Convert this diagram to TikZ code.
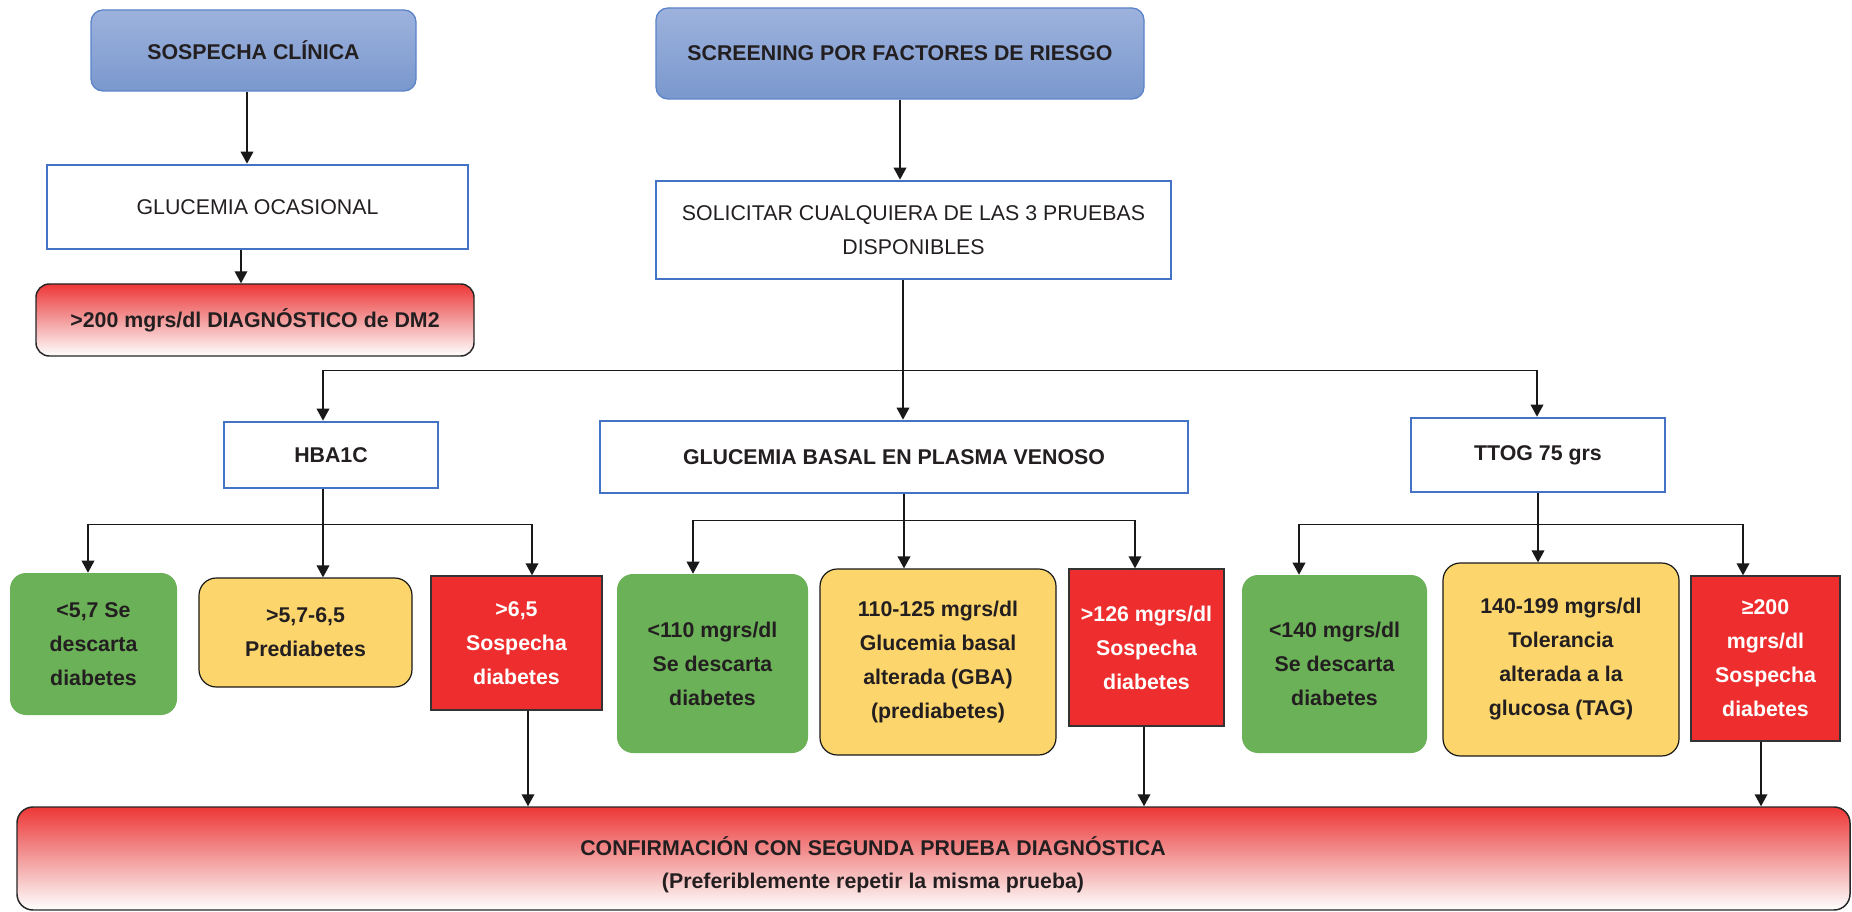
\documentclass[tikz,border=0pt]{standalone}
\usepackage{fontspec}
\setmainfont{Liberation Sans}
\usetikzlibrary{arrows.meta,calc}

\definecolor{blueTop}{HTML}{9DB2DD}
\definecolor{blueBot}{HTML}{7A98CD}
\definecolor{blueLine}{HTML}{5A84C8}
\definecolor{rectBlue}{HTML}{4472C4}
\definecolor{okGreen}{HTML}{6BB157}
\definecolor{midYellow}{HTML}{FCD56C}
\definecolor{alertRed}{HTML}{EE2E2E}
\definecolor{gradRed}{HTML}{EE3737}
\definecolor{gradMid}{HTML}{F39C9C}
\definecolor{inkText}{HTML}{231F20}

\tikzset{
  base/.style={inner sep=0pt, align=center, text=inkText,
    font=\bfseries\fontsize{16}{25.5}\selectfont},
  headbox/.style={base, draw=blueLine, line width=1pt, rounded corners=9pt,
    top color=blueTop, bottom color=blueBot},
  testbox/.style={base, draw=rectBlue, line width=2pt, fill=white},
  plainbox/.style={testbox, font=\fontsize{16}{25.5}\selectfont},
  gradbox/.style={base, draw=black!85, line width=1.1pt, rounded corners=10pt,
    top color=gradRed, bottom color=white, middle color=gradMid},
  greenbox/.style={base, fill=okGreen, rounded corners=12pt},
  yellowbox/.style={base, fill=midYellow, draw=black!90, line width=0.9pt, rounded corners=13pt},
  redbox/.style={base, fill=alertRed, draw=black!80, line width=1pt, text=white},
  ln/.style={draw=black!90, line width=1.1pt},
  arr/.style={ln, -{Triangle[length=9pt,width=9.5pt]}},
}

\begin{document}
\begin{tikzpicture}[x=0.75pt, y=-0.75pt]
\useasboundingbox (0,0) rectangle (1852,912);

% entry points
\node[headbox, minimum width=243.75pt, minimum height=60.75pt] (sc) at (253.5,50.5) {SOSPECHA CLÍNICA};
\node[headbox, minimum width=366pt, minimum height=68.25pt] (scr) at (900,53.5) {SCREENING POR FACTORES DE RIESGO};

% left branch: casual glucose
\node[plainbox, minimum width=315.75pt, minimum height=63pt] (go) at (257.5,207) {GLUCEMIA OCASIONAL};
\node[gradbox, minimum width=328.5pt, minimum height=54pt] (dm) at (255,320) {>200 mgrs/dl DIAGNÓSTICO de DM2};

% screening request
\node[plainbox, minimum width=386.25pt, minimum height=73.5pt] (sol) at (913.5,230) {SOLICITAR CUALQUIERA DE LAS 3 PRUEBAS\\DISPONIBLES};

% the three tests
\node[testbox, minimum width=160.5pt, minimum height=49.5pt] (hb) at (331,455) {HBA1C};
\node[testbox, minimum width=441pt, minimum height=54pt] (gb) at (894,457) {GLUCEMIA BASAL EN PLASMA VENOSO};
\node[testbox, minimum width=190.5pt, minimum height=55.5pt] (tt) at (1538,455) {TTOG 75 grs};

% HbA1c results
\node[greenbox, minimum width=125.25pt, minimum height=106.5pt] (g1) at (93.5,644) {<5,7 Se\\descarta\\diabetes};
\node[yellowbox, minimum width=159.75pt, minimum height=81.75pt] (y1) at (305.5,632.5) {>5,7-6,5\\Prediabetes};
\node[redbox, minimum width=128.25pt, minimum height=100.5pt] (r1) at (516.5,643) {>6,5\\Sospecha\\diabetes};

% fasting glucose results
\node[greenbox, minimum width=143.25pt, minimum height=134.25pt] (g2) at (712.5,663.5) {<110 mgrs/dl\\Se descarta\\diabetes};
\node[yellowbox, minimum width=177pt, minimum height=139.5pt] (y2) at (938,662) {110-125 mgrs/dl\\Glucemia basal\\alterada (GBA)\\(prediabetes)};
\node[redbox, minimum width=116.25pt, minimum height=117.75pt] (r2) at (1146.5,647.5) {>126 mgrs/dl\\Sospecha\\diabetes};

% OGTT results
\node[greenbox, minimum width=138.75pt, minimum height=133.5pt] (g3) at (1334.5,664) {<140 mgrs/dl\\Se descarta\\diabetes};
\node[yellowbox, minimum width=177pt, minimum height=144.75pt] (y3) at (1561,659.5) {140-199 mgrs/dl\\Tolerancia\\alterada a la\\glucosa (TAG)};
\node[redbox, minimum width=111.75pt, minimum height=123.75pt] (r3) at (1765.5,658.5) {\fontsize{16}{24}\selectfont ≥200\\mgrs/dl\\Sospecha\\diabetes};

% confirmation
\node[gradbox, minimum width=1374.75pt, minimum height=77.25pt, rounded corners=12pt] (cf) at (933.5,858.5) {};
\node[base, font=\bfseries\fontsize{16}{24.75}\selectfont] (cft) at (873,865) {CONFIRMACIÓN CON SEGUNDA PRUEBA DIAGNÓSTICA\\(Preferiblemente repetir la misma prueba)};

% top connectors
\coordinate (p1) at ($(sc.south)+(-6.5,0)$);
\draw[arr] (p1) -- (p1 |- go.north);
\coordinate (p2) at ($(go.south)+(-16.5,0)$);
\draw[arr] (p2) -- (p2 |- dm.north);
\draw[arr] (scr.south) -- (scr.south |- sol.north);

% distribution to the three tests
\coordinate (s0) at ($(sol.south)+(-10.5,0)$);
\coordinate (bus) at ($(s0)+(0,90)$);
\coordinate (h0) at ($(hb.north)+(-8,0)$);
\coordinate (t0) at ($(tt.north)+(-1,0)$);
\draw[arr] (s0) -- (s0 |- gb.north);
\draw[ln] (h0 |- bus) -- (t0 |- bus);
\draw[arr] (h0 |- bus) -- (h0);
\draw[arr] (t0 |- bus) -- (t0);

% HbA1c fan-out
\coordinate (hs) at (h0 |- hb.south);
\coordinate (hj) at ($(hs)+(0,35)$);
\coordinate (a1) at ($(g1.north)+(-5.5,0)$);
\coordinate (a3) at ($(r1.north)+(15.5,0)$);
\draw[arr] (hs) -- (hs |- y1.north);
\draw[ln] (a1 |- hj) -- (a3 |- hj);
\draw[arr] (a1 |- hj) -- (a1);
\draw[arr] (a3 |- hj) -- (a3);

% fasting glucose fan-out
\coordinate (gs) at ($(gb.south)+(10,0)$);
\coordinate (gj) at ($(gs)+(0,26)$);
\coordinate (b1) at ($(g2.north)+(-19.5,0)$);
\coordinate (b3) at ($(r2.north)+(-11.5,0)$);
\draw[arr] (gs) -- (gs |- y2.north);
\draw[ln] (b1 |- gj) -- (b3 |- gj);
\draw[arr] (b1 |- gj) -- (b1);
\draw[arr] (b3 |- gj) -- (b3);

% OGTT fan-out
\coordinate (ts) at (tt.south);
\coordinate (tj) at ($(ts)+(0,31)$);
\coordinate (c1) at ($(g3.north)+(-35.5,0)$);
\coordinate (c3) at ($(r3.north)+(-22.5,0)$);
\draw[arr] (ts) -- (ts |- y3.north);
\draw[ln] (c1 |- tj) -- (c3 |- tj);
\draw[arr] (c1 |- tj) -- (c1);
\draw[arr] (c3 |- tj) -- (c3);

% positive results lead to confirmation
\coordinate (d1) at ($(r1.south)+(11.5,0)$);
\coordinate (d2) at ($(r2.south)+(-2.5,0)$);
\coordinate (d3) at ($(r3.south)+(-4.5,0)$);
\draw[arr] (d1) -- (d1 |- cf.north);
\draw[arr] (d2) -- (d2 |- cf.north);
\draw[arr] (d3) -- (d3 |- cf.north);
\end{tikzpicture}
\end{document}
